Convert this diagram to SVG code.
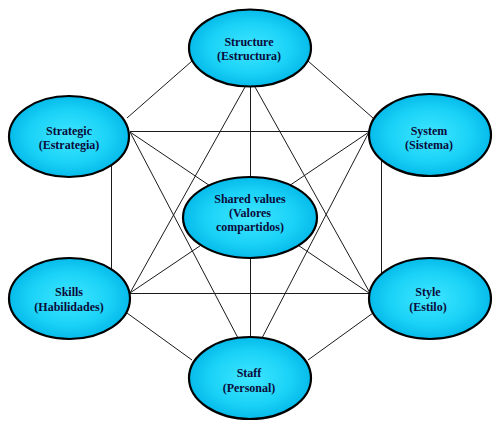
<svg xmlns="http://www.w3.org/2000/svg" width="495" height="425" viewBox="0 0 495 425">
<defs>
<radialGradient id="g" cx="50%" cy="50%" r="55%">
<stop offset="0" stop-color="#3fe6ff"/>
<stop offset="0.6" stop-color="#1ad2f7"/>
<stop offset="1" stop-color="#00b4e6"/>
</radialGradient>
</defs>
<style>
.c line{stroke:#1a1a1a;stroke-width:1;fill:none}
.n ellipse{fill:url(#g);stroke:#000;stroke-width:2.2}
.n text{font-family:"Liberation Serif","Times New Roman",serif;font-weight:bold;font-size:12px;fill:#0b0b3a;text-anchor:middle}
</style>
<rect width="495" height="425" fill="#fff"/>
<g id="connectors" class="c">
<line x1="192" y1="61" x2="127" y2="118"/>
<line x1="308" y1="61" x2="373" y2="118"/>
<line x1="250.5" y1="86" x2="250.5" y2="178"/>
<line x1="245" y1="87" x2="130" y2="293"/>
<line x1="255" y1="87" x2="370" y2="293"/>
<line x1="130" y1="131.5" x2="369" y2="131.5"/>
<line x1="111.5" y1="160" x2="111.5" y2="275"/>
<line x1="381.5" y1="160" x2="381.5" y2="275"/>
<line x1="130" y1="132" x2="369" y2="293"/>
<line x1="369" y1="132" x2="130" y2="293"/>
<line x1="130" y1="132" x2="238" y2="338"/>
<line x1="369" y1="132" x2="262" y2="338"/>
<line x1="130" y1="293.5" x2="370" y2="293.5"/>
<line x1="127" y1="313" x2="192" y2="360"/>
<line x1="373" y1="313" x2="308" y2="360"/>
<line x1="250.5" y1="257" x2="250.5" y2="338"/>
</g>
<g id="structure" class="n">
<ellipse cx="250" cy="48" rx="61" ry="38.5"/>
<text x="249" y="46">Structure</text>
<text x="249" y="60">(Estructura)</text>
</g>
<g id="strategic" class="n">
<ellipse cx="69" cy="136.5" rx="60" ry="40.5"/>
<text x="69" y="135">Strategic</text>
<text x="69" y="149">(Estrategia)</text>
</g>
<g id="system" class="n">
<ellipse cx="430" cy="135" rx="61" ry="41"/>
<text x="429" y="135">System</text>
<text x="429" y="149">(Sistema)</text>
</g>
<g id="shared-values" class="n">
<ellipse cx="250" cy="217.5" rx="67" ry="40.5"/>
<text x="250" y="203">Shared values</text>
<text x="250" y="217">(Valores</text>
<text x="250" y="231">compartidos)</text>
</g>
<g id="skills" class="n">
<ellipse cx="69.5" cy="298.5" rx="60.5" ry="40.5"/>
<text x="69" y="296">Skills</text>
<text x="69" y="311">(Habilidades)</text>
</g>
<g id="style" class="n">
<ellipse cx="430" cy="298.5" rx="61" ry="40.5"/>
<text x="428" y="296">Style</text>
<text x="428" y="311">(Estilo)</text>
</g>
<g id="staff" class="n">
<ellipse cx="250" cy="378" rx="61" ry="41"/>
<text x="249" y="377">Staff</text>
<text x="249" y="392">(Personal)</text>
</g>
</svg>
